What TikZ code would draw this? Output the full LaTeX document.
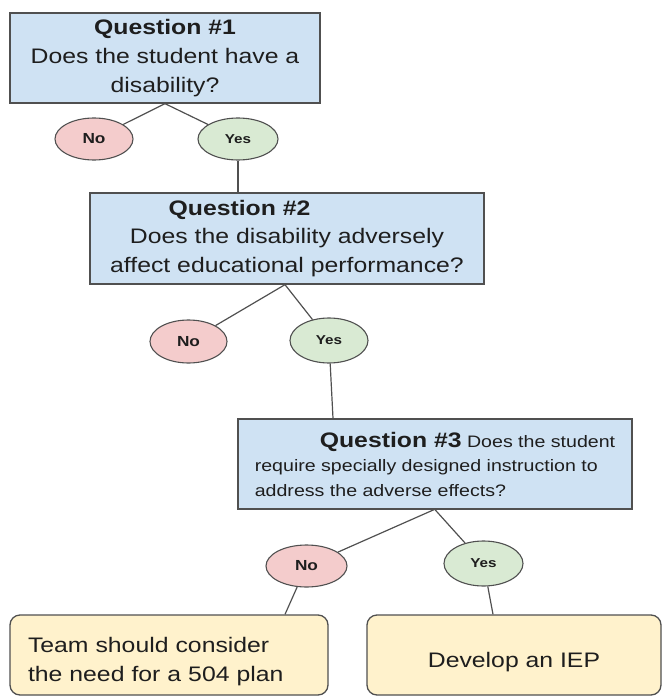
\documentclass[tikz,border=0pt]{standalone}
\usepackage{fontspec}
\setmainfont{Liberation Sans}[FakeStretch=1.18]
\usetikzlibrary{shapes.geometric}

\definecolor{qblue}{HTML}{CFE2F3}
\definecolor{nored}{HTML}{F4CCCC}
\definecolor{yesgreen}{HTML}{D9EAD3}
\definecolor{outyellow}{HTML}{FFF2CC}
\definecolor{edgegray}{HTML}{505050}
\definecolor{inkgray}{HTML}{1E1E1E}

\begin{document}
\begin{tikzpicture}[
  x=1pt, y=-1pt,
  question/.style={draw=edgegray, rectangle, line width=1.3pt,
                   fill=qblue, text=inkgray, align=center,
                   inner sep=0pt, font=\fontsize{21}{28.5}\selectfont},
  answerno/.style={draw=edgegray, ellipse, line width=1.1pt,
                   fill=nored, text=inkgray, inner sep=0pt,
                   font=\fontsize{14.6}{16}\selectfont\bfseries},
  answeryes/.style={draw=edgegray, ellipse, line width=1.1pt,
                    fill=yesgreen, text=inkgray, inner sep=0pt,
                    font=\fontsize{12.9}{14}\selectfont\bfseries},
  outcome/.style={draw=edgegray, rectangle, rounded corners=10pt,
                  line width=1.3pt, fill=outyellow, text=inkgray,
                  inner sep=0pt, minimum height=80pt,
                  font=\fontsize{21}{29}\selectfont},
  link/.style={draw=edgegray, line width=1.2pt},
]
  \useasboundingbox (0,0) rectangle (662,696);

  % question 1
  \node[question, minimum width=310pt, minimum height=90pt,
        font=\fontsize{21}{29}\selectfont] (q1) at (165,58)
    {\textbf{Question \#1}\\Does the student have a\\disability?};
  \node[answerno, minimum width=78pt, minimum height=42pt] (no1) at (94,139) {No};
  \node[answeryes, minimum width=80pt, minimum height=42pt] (yes1) at (238,139) {Yes};
  \draw[link] (q1.south) -- (no1);
  \draw[link] (q1.south) -- (yes1);

  % question 2
  \node[question, minimum width=394pt, minimum height=91pt] (q2) at (287,238.5)
    {\textbf{Question \#2}\hspace*{95pt}\\Does the disability adversely\\affect educational performance?};
  \draw[link] (yes1) -- (yes1 |- q2.north);
  \node[answerno, minimum width=77pt, minimum height=43pt] (no2) at (188.5,341.5) {No};
  \node[answeryes, minimum width=78pt, minimum height=45pt] (yes2) at (329,340.5) {Yes};
  \draw[link] ([xshift=-2pt]q2.south) -- (no2);
  \draw[link] ([xshift=-2pt]q2.south) -- (yes2);

  % question 3
  \node[question, minimum width=394pt, minimum height=90pt, align=left,
        font=\fontsize{16.6}{24.5}\selectfont] (q3) at (435,464)
    {\hspace*{65pt}{\fontsize{21}{24.5}\selectfont\bfseries Question \#3} Does the student\\
     require specially designed instruction to\\address the adverse effects?};
  \draw[link] (yes2) -- ([xshift=-102pt]q3.north);
  \node[answerno, minimum width=81pt, minimum height=42pt] (no3) at (306.5,566) {No};
  \node[answeryes, minimum width=79pt, minimum height=45pt] (yes3) at (483.5,563.5) {Yes};
  \draw[link] ([xshift=-1pt]q3.south) -- (no3);
  \draw[link] (q3.south) -- (yes3);

  % outcomes
  \node[outcome, minimum width=318pt, text width=282pt, align=left] (plan504) at (169,655)
    {\rule{0pt}{29pt}Team should consider\\the need for a 504 plan};
  \node[outcome, minimum width=294pt, align=center] (iep) at (514,655)
    {\rule{0pt}{29pt}Develop an IEP};
  \draw[link] (no3) -- ([xshift=116pt]plan504.north);
  \draw[link] (yes3) -- ([xshift=-21pt]iep.north);
\end{tikzpicture}
\end{document}
